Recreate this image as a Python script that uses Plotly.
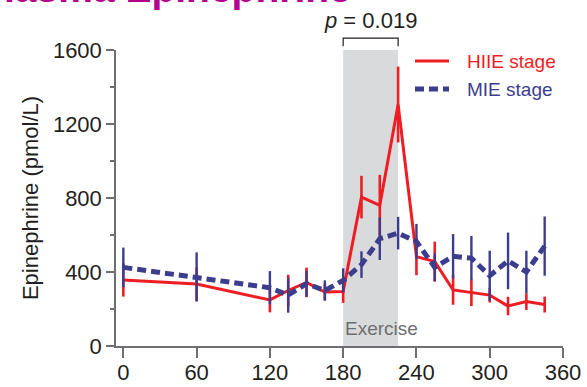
import plotly.graph_objects as go

# ---- data ----
time_min = [0, 60, 120, 135, 150, 165, 180, 195, 210, 225, 240, 255, 270, 285, 300, 315, 330, 345]
hiie_mean = [357, 335, 249, 300, 344, 292, 295, 805, 760, 1305, 483, 456, 303, 288, 275, 216, 240, 224]
hiie_err = [90, 90, 67, 85, 80, 45, 62, 115, 165, 205, 100, 108, 80, 72, 40, 50, 45, 43]
mie_mean = [425, 373, 315, 275, 337, 300, 355, 440, 580, 610, 565, 425, 485, 475, 380, 460, 400, 540]
mie_err = [107, 133, 90, 95, 70, 55, 65, 72, 115, 88, 95, 75, 120, 120, 135, 153, 115, 160]

series_names = ["HIIE stage", "MIE stage"]
x_ticks = [0, 60, 120, 180, 240, 300, 360]
y_ticks = [0, 400, 800, 1200, 1600]
exercise_start, exercise_end = 180, 225
p_text = "<i>p</i> = 0.019"

RED = "#EE1D23"
BLUE = "#3D3D8E"
AXIS = "#6D6E71"
FONT = "Liberation Sans, Arial, Helvetica, sans-serif"
DASH = "9px,5px"

fig = go.Figure()

fig.add_trace(go.Scatter(
    x=time_min, y=hiie_mean, mode="lines", name=series_names[0], showlegend=False,
    line=dict(color=RED, width=3),
    error_y=dict(type="data", array=hiie_err, visible=True, color=RED, thickness=2.6, width=0),
))
fig.add_trace(go.Scatter(
    x=time_min, y=mie_mean, mode="lines", name=series_names[1], showlegend=False,
    line=dict(color=BLUE, width=5, dash=DASH),
    error_y=dict(type="data", array=mie_err, visible=True, color=BLUE, thickness=2.4, width=0),
))

# exercise shading
fig.add_shape(type="rect", xref="x", yref="y", x0=exercise_start, x1=exercise_end,
              y0=y_ticks[0], y1=y_ticks[-1], fillcolor="#D9DADB", line=dict(width=0), layer="below")
# bracket above exercise period
fig.add_shape(type="path", xref="x", yref="paper",
              path="M %d,1.013 L %d,1.040 L %d,1.040 L %d,1.013" % (exercise_start, exercise_start, exercise_end, exercise_end),
              line=dict(color="#231F20", width=1.2))

# legend (drawn manually to match the reference spacing)
leg_rows = [(0.9628, RED, 3, "solid"), (0.8682, BLUE, 5, DASH)]
for name, (ly, col, w, dsh) in zip(series_names, leg_rows):
    fig.add_shape(type="line", xref="paper", yref="paper", x0=0.6689, x1=0.745, y0=ly, y1=ly,
                  line=dict(color=col, width=w, dash=dsh))
    fig.add_annotation(x=0.7808, xref="paper", y=ly, yref="paper", text=name, showarrow=False,
                       xanchor="left", yanchor="middle", font=dict(family=FONT, size=19, color=col))

fig.add_annotation(x=(exercise_start + exercise_end) / 2, xref="x", y=1.10, yref="paper",
                   text=p_text, showarrow=False, yanchor="middle",
                   font=dict(family=FONT, size=22, color="#231F20"))
fig.add_annotation(x=exercise_start, xref="x", y=92, yref="y", text="Exercise", showarrow=False,
                   xanchor="left", yanchor="middle", font=dict(family=FONT, size=19, color="#6D6E71"))
fig.add_annotation(x=-0.313, xref="paper", y=1.130, yref="paper", text="<b>Plasma Epinephrine</b>",
                   showarrow=False, xanchor="left", yanchor="bottom",
                   font=dict(family=FONT, size=39, color="#B5008D"))

fig.update_layout(
    width=587, height=387,
    margin=dict(l=116, r=24, t=50, b=41, autoexpand=False),
    paper_bgcolor="white", plot_bgcolor="white",
    font=dict(family=FONT, size=22, color="#231F20"),
    showlegend=False,
    xaxis=dict(range=[-6, 360], tickvals=x_ticks, showline=True, linecolor=AXIS, linewidth=1.5,
               ticks="outside", ticklen=10, tickwidth=1.5, tickcolor=AXIS, showgrid=False, zeroline=False,
               automargin=False, ticklabelstandoff=-4, tickfont=dict(size=22, color="#231F20")),
    yaxis=dict(range=[0, 1600], tickvals=y_ticks, showline=True, linecolor=AXIS, linewidth=1.5,
               ticks="outside", ticklen=8, tickwidth=1.5, tickcolor=AXIS, showgrid=False, zeroline=False,
               automargin=False, tickfont=dict(size=22, color="#231F20"),
               minor=dict(dtick=200, ticks="outside", ticklen=4, tickwidth=1.5, tickcolor=AXIS, showgrid=False),
               title=dict(text="Epinephrine (pmol/L)", standoff=8, font=dict(size=22, color="#231F20"))),
)

fig.write_html("out.html", config={"displayModeBar": False},
               post_script="document.body.style.margin='0';document.body.style.overflow='hidden';")
